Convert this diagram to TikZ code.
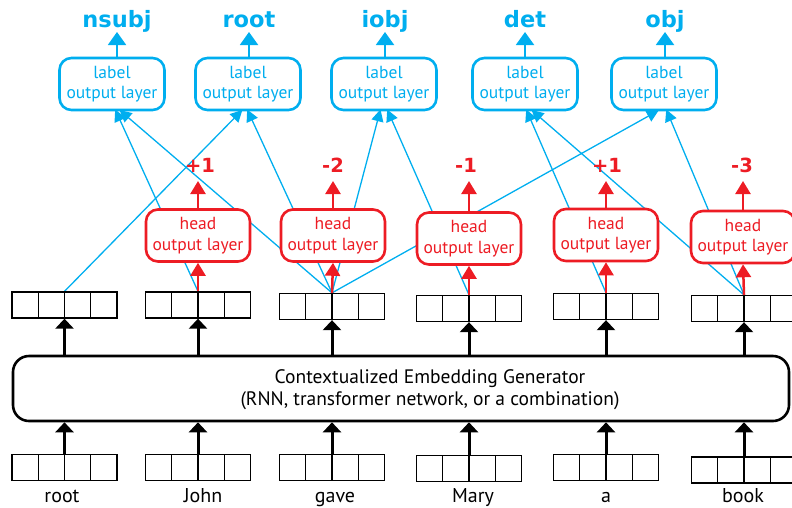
\documentclass[tikz,border=0pt]{standalone}
\usepackage{fontspec}
\setmainfont{PT Sans}
\newfontfamily\dvs{DejaVu Sans}
\usetikzlibrary{arrows.meta}
\definecolor{cblue}{RGB}{0,174,239}
\definecolor{cred}{RGB}{237,28,36}
\pgfdeclarelayer{bg}
\pgfsetlayers{bg,main}
\begin{document}
\begin{tikzpicture}[x=1pt,y=-1pt,
  vec/.style={draw=black, line width=1.3pt, fill=white, minimum width=105pt, minimum height=26pt, inner sep=0pt,
    path picture={\foreach \f in {0.25,0.5,0.75}{\draw[line width=1.3pt] ([xshift=\f*105pt]path picture bounding box.south west) -- ([xshift=\f*105pt]path picture bounding box.north west);}}},
  hbox/.style={draw=cred, text=cred, line width=2.6pt, rounded corners=12pt, fill=white, minimum width=104pt, minimum height=52pt, align=center, inner sep=0pt, font=\fontsize{17.5}{20.5}\selectfont},
  lbox/.style={draw=cblue, text=cblue, line width=2.6pt, rounded corners=12pt, fill=white, minimum width=105pt, minimum height=52pt, align=center, inner sep=0pt, font=\fontsize{17.5}{20.5}\selectfont},
  blab/.style={text=cblue, font=\dvs\bfseries\fontsize{22.5}{24}\selectfont, inner sep=0pt, anchor=base},
  rnum/.style={text=cred, font=\dvs\bfseries\fontsize{19.5}{21}\selectfont, inner sep=0pt, anchor=base},
  word/.style={font=\fontsize{20}{22}\selectfont, inner sep=0pt, anchor=base},
  barr/.style={-{Triangle[length=12pt,width=12pt]}, cblue, line width=1.3pt, shorten >=-2pt},
  tarr/.style={-{Triangle[length=13pt,width=18pt]}, cblue, line width=2pt},
  rarr/.style={-{Triangle[length=13pt,width=15pt]}, cred, line width=2.5pt},
  karr/.style={-{Triangle[length=10pt,width=18pt]}, black, line width=3pt},
]
\useasboundingbox (0,0) rectangle (792,507);

% label output layers
\node[lbox] (l1) at (112,84) {label\\output layer};
\node[lbox] (l2) at (248,84) {label\\output layer};
\node[lbox] (l3) at (384,84) {label\\output layer};
\node[lbox] (l4) at (525,84) {label\\output layer};
\node[lbox] (l5) at (664,84) {label\\output layer};

\node[blab] (t1) at (117,27) {nsubj};
\node[blab] (t2) at (249,27) {root};
\node[blab] (t3) at (385,27) {iobj};
\node[blab] (t4) at (525,27) {det};
\node[blab] (t5) at (665,27) {obj};

\foreach \i in {1,...,5}{\draw[tarr, shorten >=5pt] (l\i.north -| t\i.base) -- (t\i.base);}

% upper vectors
\node[vec] (u0) at (64.5,305) {};
\node[vec] (u1) at (198,305) {};
\node[vec] (u2) at (332,306.5) {};
\node[vec] (u3) at (469,308.5) {};
\node[vec] (u4) at (606,306.5) {};
\node[vec] (u5) at (744,308.5) {};

% head output layers
\node[hbox] (h1) at (198,235.5) {head\\output layer};
\node[hbox] (h2) at (333,235.5) {head\\output layer};
\node[hbox] (h3) at (469,238.5) {head\\output layer};
\node[hbox] (h4) at (606,235) {head\\output layer};
\node[hbox] (h5) at (743,237) {head\\output layer};

\node[rnum] (n1) at (200,172) {+1};
\node[rnum] (n2) at (333,172) {-2};
\node[rnum] (n3) at (466,172) {-1};
\node[rnum] (n4) at (607,172) {+1};
\node[rnum] (n5) at (742,172) {-3};

\foreach \i in {1,...,5}{
  \draw[rarr] (u\i.north) -- (h\i.south);
  \draw[rarr, shorten >=9pt] (h\i.north) -- (h\i.north |- n\i.base);
}

% blue connectors (behind)
\begin{pgfonlayer}{bg}
\draw[barr] (u1.north) -- ([xshift=4pt]l1.south);
\draw[barr] (u2.north) -- ([xshift=9pt]l1.south);
\draw[barr] (u0.north) -- ([xshift=-7pt]l2.south);
\draw[barr] (u2.north) -- ([xshift=0pt]l2.south);
\draw[barr] (u2.north) -- ([xshift=-4pt]l3.south);
\draw[barr] (u3.north) -- ([xshift=4pt]l3.south);
\draw[barr] (u4.north) -- ([xshift=2pt]l4.south);
\draw[barr] (u5.north) -- ([xshift=8pt]l4.south);
\draw[barr] (u2.north) -- ([xshift=-7pt]l5.south);
\draw[barr] (u5.north) -- ([xshift=3pt]l5.south);
\end{pgfonlayer}

% embedding generator
\node[draw=black, line width=2.6pt, rounded corners=16pt, minimum width=776pt, minimum height=65pt, inner sep=0pt] (emb) at (401,388.5) {};
\node[align=center, font=\fontsize{19.5}{22}\selectfont, inner sep=0pt] (embt) at (430,390) {Contextualized Embedding Generator\\(RNN, transformer network, or a combination)};

% lower vectors
\node[vec] (d0) at (64.5,467.5) {};
\node[vec] (d1) at (198,467.5) {};
\node[vec] (d2) at (332,467.5) {};
\node[vec] (d3) at (469,468.5) {};
\node[vec] (d4) at (606,467.5) {};
\node[vec] (d5) at (744,470) {};

\foreach \i in {0,...,5}{
  \draw[karr] (u\i.south |- emb.north) -- (u\i.south);
  \draw[karr] (d\i.north) -- (d\i.north |- emb.south);
}

\node[word] (w0) at (62,502) {root};
\node[word] (w1) at (203,502) {John};
\node[word] (w2) at (335,502) {gave};
\node[word] (w3) at (473,502) {Mary};
\node[word] (w4) at (606,502) {a};
\node[word] (w5) at (743,502) {book};
\end{tikzpicture}
\end{document}
